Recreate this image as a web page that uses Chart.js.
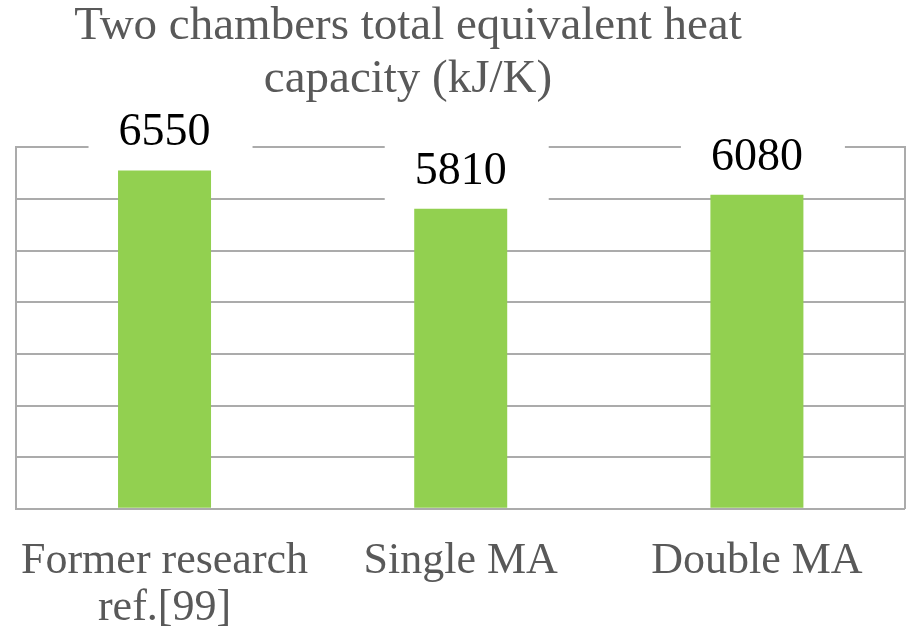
<!DOCTYPE html>
<html lang="en">
<head>
    <meta charset="UTF-8">
    <title>Two chambers total equivalent heat capacity</title>
    <script src="https://cdn.jsdelivr.net/npm/chart.js"></script>
    <style>
        html, body { margin: 0; padding: 0; background: #fff; }
        #wrap { width: 908px; height: 635px; }
    </style>
</head>
<body>
    <div id="wrap"><canvas id="heatChart"></canvas></div>
    <script>
        // values
        const cases = [['Former research', 'ref.[99]'], 'Single MA', 'Double MA'];
        const heatCapacity = [6550, 5810, 6080];
        const titleLines = ['Two chambers total equivalent heat', 'capacity (kJ/K)'];

        const serif = '"Liberation Serif", "Times New Roman", serif';
        const gridGrey = '#ababab';

        // value labels on a white box (the box hides the gridlines behind it)
        const valueLabels = {
            id: 'valueLabels',
            afterDatasetsDraw(chart) {
                const ctx = chart.ctx;
                const meta = chart.getDatasetMeta(0);
                ctx.save();
                ctx.font = '46px ' + serif;
                ctx.textAlign = 'center';
                ctx.textBaseline = 'alphabetic';
                meta.data.forEach((bar, i) => {
                    const text = String(heatCapacity[i]);
                    const w = ctx.measureText(text).width;
                    const base = bar.y - 25;
                    ctx.fillStyle = '#ffffff';
                    ctx.fillRect(bar.x - w / 2 - 30, base - 42, w + 72, 61);
                    ctx.fillStyle = '#000000';
                    ctx.fillText(text, bar.x, base);
                });
                ctx.restore();
            }
        };

        // the title sits a little left of the plot centre in the original
        const titleShift = {
            id: 'titleShift',
            afterLayout(chart) {
                if (chart.titleBlock) {
                    chart.titleBlock.left -= 44;
                    chart.titleBlock.right -= 44;
                }
            }
        };

        new Chart(document.getElementById('heatChart'), {
            type: 'bar',
            data: {
                labels: cases,
                datasets: [{
                    data: heatCapacity,
                    backgroundColor: '#92d050',
                    borderWidth: 0,
                    barPercentage: 0.314,
                    categoryPercentage: 1
                }]
            },
            options: {
                responsive: true,
                maintainAspectRatio: false,
                animation: false,
                layout: {
                    padding: { left: -1, right: 3, top: 0, bottom: -18 }
                },
                plugins: {
                    legend: { display: false },
                    tooltip: { enabled: false },
                    title: {
                        display: true,
                        text: titleLines,
                        color: '#595959',
                        font: { family: serif, size: 47, weight: 'normal', lineHeight: 1.13 },
                        padding: { top: 0, bottom: 41 }
                    }
                },
                scales: {
                    x: {
                        grid: { display: false },
                        border: { display: false },
                        ticks: {
                            color: '#595959',
                            padding: 21,
                            maxRotation: 0,
                            font: { family: serif, size: 44, lineHeight: 1.07 }
                        }
                    },
                    y: {
                        min: 0,
                        max: 7000,
                        ticks: { display: false, stepSize: 1000 },
                        grid: { color: gridGrey, lineWidth: 2, drawTicks: false },
                        border: { display: true, color: gridGrey, width: 2 }
                    },
                    yRight: {
                        position: 'right',
                        min: 0,
                        max: 7000,
                        ticks: { display: false },
                        grid: { display: false, drawTicks: false },
                        border: { display: true, color: gridGrey, width: 2 }
                    }
                }
            },
            plugins: [valueLabels, titleShift]
        });
    </script>
</body>
</html>
